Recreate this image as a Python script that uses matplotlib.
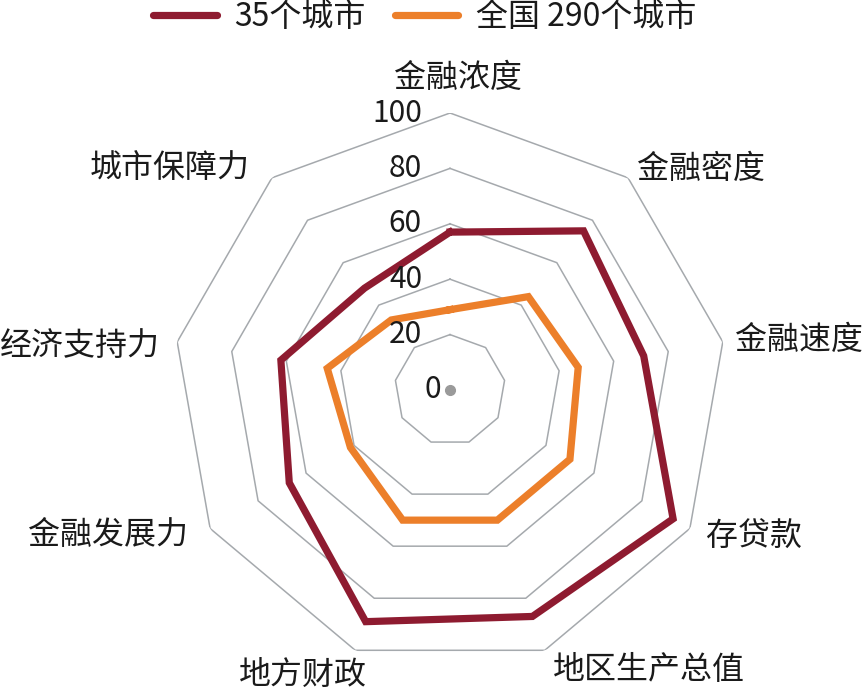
import numpy as np
import matplotlib
matplotlib.use("Agg")
import matplotlib.pyplot as plt
from matplotlib.lines import Line2D

plt.rcParams['font.family'] = ['Noto Sans CJK SC', 'DejaVu Sans']
plt.rcParams['font.weight'] = 'light'

categories = ['金融浓度', '金融密度', '金融速度', '存贷款', '地区生产总值',
              '地方财政', '金融发展力', '经济支持力', '城市保障力']
series_names = ['35个城市', '全国 290个城市']
cities35 = [57, 75, 71, 93, 87, 89, 67, 62, 48]
cities290 = [29, 44, 47, 50, 50, 50, 41.5, 45, 33]
ring_levels = [20, 40, 60, 80, 100]
tick_labels = ['0', '20', '40', '60', '80', '100']

RED = '#8E1B30'
ORANGE = '#EC7F2A'
GRID = '#A5A9AD'
TXT = '#1A1A1A'

W, H = 868, 691
fig = plt.figure(figsize=(W / 100, H / 100), dpi=100)
cx, cy, R = 450, 390, 277
ax = fig.add_axes([(cx - R) / W, (H - cy - R) / H, 2 * R / W, 2 * R / H],
                  projection='polar')
ax.set_theta_zero_location('N')
ax.set_theta_direction(-1)
ax.set_ylim(0, 100)
ax.grid(False)
ax.spines['polar'].set_visible(False)
ax.set_xticks([])
ax.set_yticks([])
ax.patch.set_alpha(0)

n = len(categories)
theta = np.linspace(0, 2 * np.pi, n, endpoint=False)
theta_c = np.append(theta, theta[0])

for lv in ring_levels:
    ax.plot(theta_c, [lv] * (n + 1), color=GRID, lw=1.1, zorder=1)

for vals, col in [(cities290, ORANGE), (cities35, RED)]:
    v = np.append(vals, vals[0])
    ax.plot(theta_c, v, color=col, lw=5.2, solid_joinstyle='miter', zorder=3)

ax.plot([0], [0], 'o', color='#9A9A9A', ms=7, zorder=4)

# radial tick labels
levels_all = [0] + ring_levels
for lv, lab in zip(levels_all, tick_labels):
    dx = -9 if lv == 0 else -28
    ax.annotate(lab, xy=(0, lv), xytext=(dx, 0), textcoords='offset pixels',
                ha='right', va='center', fontsize=21.5, color=TXT, zorder=5)

# category labels (layout offsets in pixels)
label_layout = [(8, 35, 'center'), (9, 9, 'left'), (12, 2, 'left'),
                (16, -8, 'left'), (8, -20, 'left'), (-52, -25, 'center'),
                (-22, -6, 'right'), (-17, -4, 'right'), (-22, 10, 'right')]
for t, lab, (dx, dy, ha) in zip(theta, categories, label_layout):
    ax.annotate(lab, xy=(t, 100), xytext=(dx, dy), textcoords='offset pixels',
                ha=ha, va='center', fontsize=23, color=TXT,
                annotation_clip=False)

handles = [Line2D([], [], color=RED, lw=5.2, solid_capstyle='round'),
           Line2D([], [], color=ORANGE, lw=5.2, solid_capstyle='round')]
fig.legend(handles, series_names, loc='center left',
           bbox_to_anchor=(153 / W, 1 - 17 / H), ncol=2, frameon=False,
           fontsize=23, handlelength=2.0, handletextpad=0.55,
           columnspacing=0.9, borderpad=0, borderaxespad=0,
           labelcolor=TXT)

fig.savefig('out.png', dpi=100)
